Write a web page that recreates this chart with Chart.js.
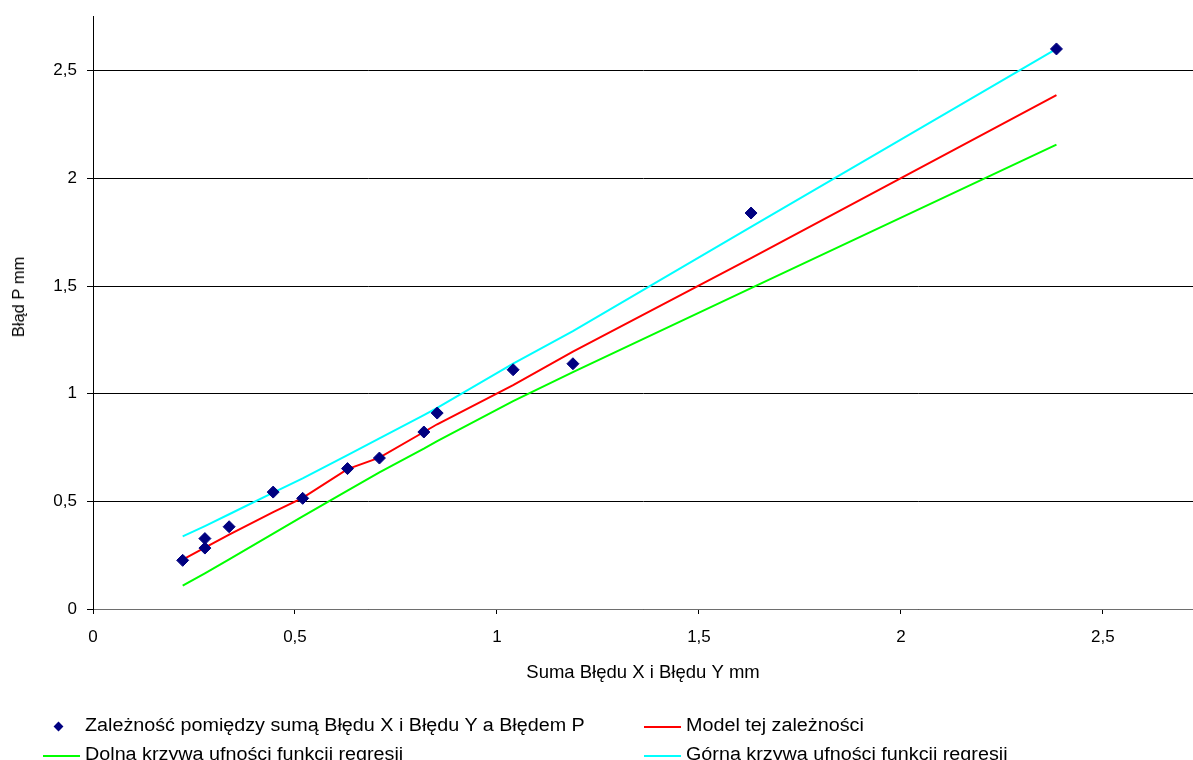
<!DOCTYPE html>
<html lang="pl">
<head>
<meta charset="utf-8">
<title>Błąd P</title>
<script src="https://cdn.jsdelivr.net/npm/chart.js@4/dist/chart.umd.min.js"></script>
<style>
  html, body { margin: 0; padding: 0; background: #fff; }
  .wrap { position: relative; width: 1193px; height: 760px; overflow: hidden; }
  #errorChart { position: absolute; left: 0; top: 0; }
  .legend-item {
    position: absolute;
    font-family: "Liberation Sans", Arial, sans-serif;
    font-size: 18px;
    line-height: 20px;
    color: #000;
    white-space: nowrap;
    transform: scaleX(1.097);
    transform-origin: left center;
  }
  .legend-line { position: absolute; height: 2px; }
  .legend-diamond { position: absolute; width: 7px; height: 7px; background: #000080; transform: rotate(45deg); }
  #yTitle {
    position: absolute;
    left: 18px;
    top: 297px;
    font-family: "Liberation Sans", Arial, sans-serif;
    font-size: 16.5px;
    line-height: 20px;
    color: #000;
    white-space: nowrap;
    transform: translate(-50%, -50%) rotate(-90deg);
  }
</style>
</head>
<body>
<div class="wrap">
  <canvas id="errorChart" width="1193" height="760"></canvas>
  <div id="yTitle"></div>
  <div id="legend"></div>
</div>
<script>
// measured points: Suma Błędu X i Błędu Y (x) vs Błąd P (y)
const pointX = [0.222, 0.277, 0.277, 0.337, 0.446, 0.519, 0.630, 0.709, 0.819, 0.852, 1.040, 1.188, 1.629, 2.385];
const pointY = [0.226, 0.283, 0.327, 0.382, 0.543, 0.514, 0.652, 0.701, 0.822, 0.910, 1.111, 1.139, 1.839, 2.601];

// model and confidence curves, read at the data x values
const lineX  = [0.222, 0.277, 0.337, 0.446, 0.519, 0.630, 0.709, 0.819, 0.852, 1.040, 1.188, 1.629, 2.385];
const modelY = [0.229, 0.285, 0.345, 0.450, 0.516, 0.650, 0.703, 0.822, 0.858, 1.040, 1.195, 1.630, 2.386];
const upperY = [0.337, 0.385, 0.440, 0.540, 0.607, 0.715, 0.792, 0.900, 0.934, 1.140, 1.290, 1.775, 2.601];
const lowerY = [0.108, 0.165, 0.230, 0.350, 0.430, 0.550, 0.635, 0.745, 0.780, 0.965, 1.100, 1.490, 2.157];

const seriesLabels = [
  'Zależność pomiędzy sumą Błędu X i Błędu Y a Błędem P',
  'Model tej zależności',
  'Dolna krzywa ufności funkcji regresji',
  'Górna krzywa ufności funkcji regresji'
];

const xTitle = 'Suma Błędu X i Błędu Y mm';
const yTitle = 'Błąd P mm';
const xMax = 2.723;
const yMax = 2.754;

const FONT = '"Liberation Sans", Arial, sans-serif';

document.addEventListener('DOMContentLoaded', function() {
  const chart = initErrorChart();
  buildLegend(chart);
  document.getElementById('yTitle').textContent = yTitle;
});

/**
 * Pair two arrays into {x, y} points
 */
function toPoints(xs, ys) {
  return xs.map((x, i) => ({ x: x, y: ys[i] }));
}

/**
 * Tick labels use a decimal comma
 */
function formatTick(value) {
  return String(Math.round(value * 10) / 10).replace('.', ',');
}

/**
 * Create the scatter chart with regression lines
 */
function initErrorChart() {
  const ctx = document.getElementById('errorChart');
  if (!ctx) return null;

  const lineStyle = {
    showLine: true,
    borderWidth: 2,
    pointRadius: 0,
    pointHoverRadius: 0,
    tension: 0,
    fill: false
  };

  return new Chart(ctx, {
    type: 'scatter',
    data: {
      datasets: [
        {
          label: seriesLabels[0],
          data: toPoints(pointX, pointY),
          pointStyle: 'rectRot',
          pointRadius: 6,
          backgroundColor: '#000080',
          borderColor: '#000080',
          borderWidth: 1
        },
        Object.assign({ label: seriesLabels[1], data: toPoints(lineX, modelY), borderColor: '#ff0000', backgroundColor: '#ff0000' }, lineStyle),
        Object.assign({ label: seriesLabels[2], data: toPoints(lineX, lowerY), borderColor: '#00ff00', backgroundColor: '#00ff00' }, lineStyle),
        Object.assign({ label: seriesLabels[3], data: toPoints(lineX, upperY), borderColor: '#00ffff', backgroundColor: '#00ffff' }, lineStyle)
      ]
    },
    options: {
      responsive: false,
      animation: false,
      layout: {
        autoPadding: false,
        padding: { left: 4, top: 16, right: 0, bottom: 72 }
      },
      plugins: {
        legend: { display: false },
        tooltip: { enabled: false }
      },
      scales: {
        x: {
          type: 'linear',
          min: 0,
          max: xMax,
          afterFit: function(scale) {
            scale.height = 79;
            scale.paddingLeft = 0;
            scale.paddingRight = 0;
          },
          ticks: {
            stepSize: 0.5,
            includeBounds: false,
            maxRotation: 0,
            padding: 13,
            color: '#000',
            font: { family: FONT, size: 17 },
            callback: formatTick
          },
          grid: {
            drawOnChartArea: false,
            tickLength: 5,
            color: '#000'
          },
          border: { color: '#6e6e6e' },
          title: {
            display: true,
            text: xTitle,
            color: '#000',
            font: { family: FONT, size: 18.5 },
            padding: 4
          }
        },
        y: {
          type: 'linear',
          min: 0,
          max: yMax,
          afterFit: function(scale) {
            scale.width = 89;
            scale.paddingTop = 0;
            scale.paddingBottom = 0;
          },
          ticks: {
            stepSize: 0.5,
            includeBounds: false,
            padding: 10,
            color: '#000',
            font: { family: FONT, size: 17 },
            callback: formatTick
          },
          grid: {
            color: '#000',
            tickLength: 6
          },
          border: { color: '#000' },
          title: { display: false }
        }
      }
    }
  });
}

/**
 * Two column legend below the plot, Excel style
 */
function buildLegend(chart) {
  const box = document.getElementById('legend');
  if (!chart || !box) return;

  const slots = [
    { left: 43, top: 715 },
    { left: 644, top: 715 },
    { left: 43, top: 744 },
    { left: 644, top: 744 }
  ];

  chart.data.datasets.forEach(function(ds, i) {
    const slot = slots[i];
    if (ds.showLine) {
      const line = document.createElement('div');
      line.className = 'legend-line';
      line.style.left = slot.left + 'px';
      line.style.top = (slot.top + 11) + 'px';
      line.style.width = '37px';
      line.style.background = ds.borderColor;
      box.appendChild(line);
    } else {
      const mark = document.createElement('div');
      mark.className = 'legend-diamond';
      mark.style.left = (slot.left + 12) + 'px';
      mark.style.top = (slot.top + 8) + 'px';
      box.appendChild(mark);
    }
    const text = document.createElement('div');
    text.className = 'legend-item';
    text.style.left = (slot.left + 42) + 'px';
    text.style.top = slot.top + 'px';
    text.textContent = ds.label;
    box.appendChild(text);
  });
}
</script>
</body>
</html>
